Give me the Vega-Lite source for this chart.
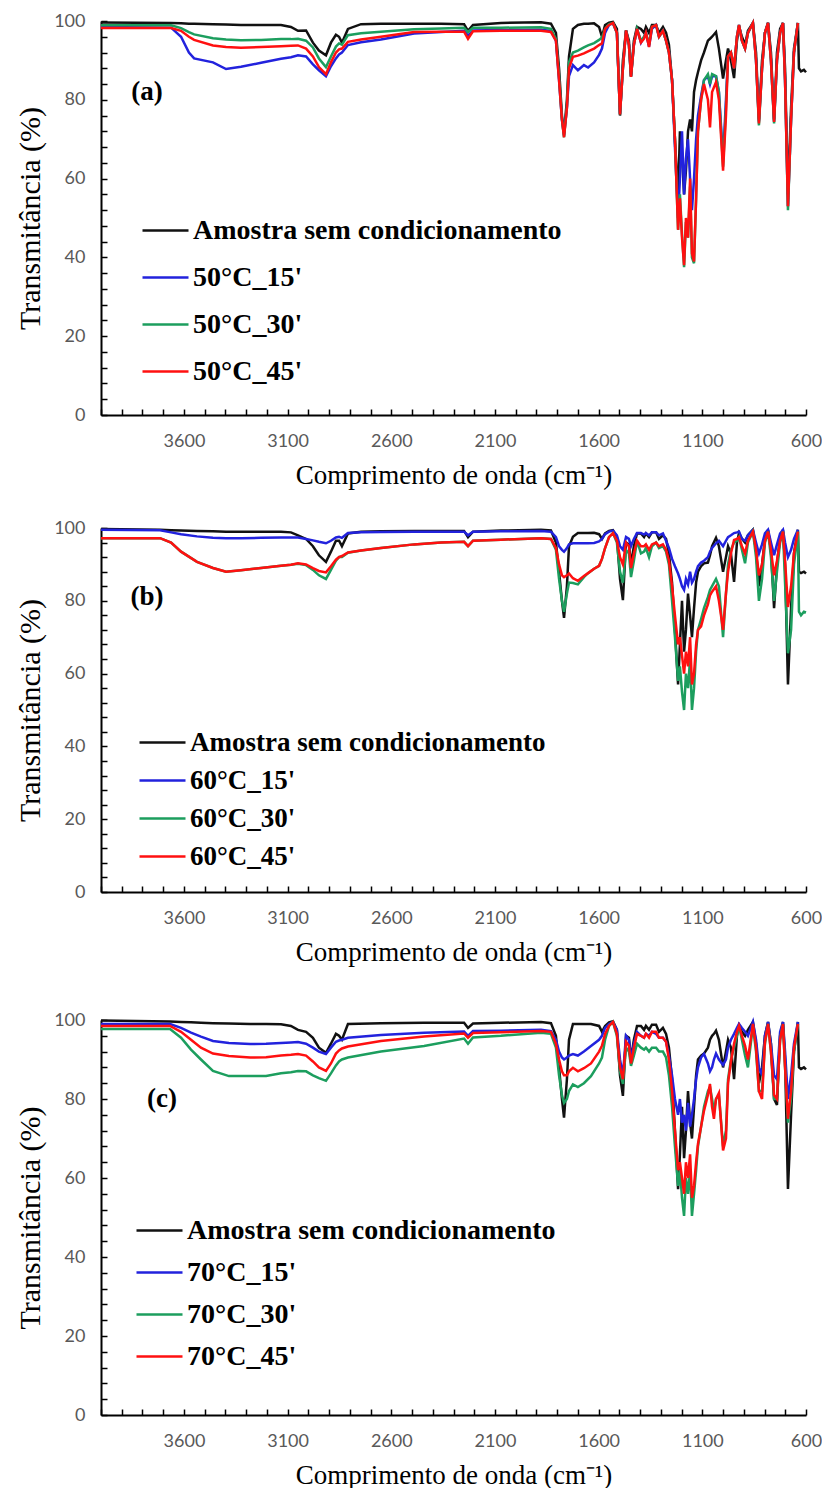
{
"$schema": "https://vega.github.io/schema/vega-lite/v6.json",
"background": "white",
"padding": {"left": 15, "top": 12, "right": 0, "bottom": 0},
"autosize": {"type": "pad"},
"config": {
  "view": {"stroke": null},
  "axis": {"grid": false, "domainColor": "#000", "domainWidth": 2, "tickColor": "#000", "tickWidth": 1.5, "tickSize": -6, "labelFont": "Lato", "labelFontSize": 18, "labelColor": "#595959", "titleFont": "Liberation Serif", "titleFontWeight": "normal", "titleColor": "#000", "labelOverlap": false, "labelFlush": false},
  "axisX": {"labelPadding": 23, "titleFontSize": 27, "titlePadding": 12},
  "axisY": {"labelPadding": 22, "titleFontSize": 30, "titlePadding": 8},
  "legend": {"title": null, "orient": "none", "symbolType": "stroke", "symbolSize": 2116, "symbolStrokeWidth": 2.5, "labelFont": "Liberation Serif", "labelFontWeight": "bold", "labelFontSize": 28, "labelColor": "#000", "labelOffset": 3, "labelLimit": 600, "padding": 0}
},
"datasets": {
  "NA": [{"key":"k","s":"Amostra sem condicionamento"},{"key":"b","s":"50°C_15'"},{"key":"g","s":"50°C_30'"},{"key":"r","s":"50°C_45'"}],
  "NB": [{"key":"k","s":"Amostra sem condicionamento"},{"key":"b","s":"60°C_15'"},{"key":"g","s":"60°C_30'"},{"key":"r","s":"60°C_45'"}],
  "NC": [{"key":"k","s":"Amostra sem condicionamento"},{"key":"b","s":"70°C_15'"},{"key":"g","s":"70°C_30'"},{"key":"r","s":"70°C_45'"}],
  "A": [
{"x":4000,"k":99.6,"b":98.5,"g":98.9,"r":98.2},
{"x":3662,"k":99.5,"b":98.3,"g":98.9,"r":98.2},
{"x":3614,"k":99.4,"b":96,"g":98.2,"r":97.5},
{"x":3576,"k":99.3,"b":92,"g":97.2,"r":96},
{"x":3551,"k":99.3,"b":90.5,"g":96.6,"r":95.2},
{"x":3460,"k":99.2,"b":89.5,"g":95.6,"r":93.8},
{"x":3397,"k":99.1,"b":87.8,"g":95.3,"r":93.4},
{"x":3325,"k":99,"b":88.4,"g":95.1,"r":93.2},
{"x":3228,"k":99,"b":89.4,"g":95.2,"r":93.4},
{"x":3132,"k":99,"b":90.4,"g":95.4,"r":93.6},
{"x":3084,"k":98.5,"b":90.8,"g":95.4,"r":93.7},
{"x":3050,"k":97.5,"b":91.3,"g":95.5,"r":93.8},
{"x":3011,"k":97.6,"b":91,"g":95,"r":93},
{"x":2978,"k":94.5,"b":89,"g":93.3,"r":91},
{"x":2949,"k":92.5,"b":87.5,"g":90.5,"r":88.3},
{"x":2915,"k":91.3,"b":86,"g":88.3,"r":86.5},
{"x":2891,"k":94.5,"b":88.5,"g":91,"r":89.5},
{"x":2867,"k":96.5,"b":90.5,"g":93.5,"r":92},
{"x":2852,"k":96,"b":91.5,"g":94.3,"r":92.8},
{"x":2838,"k":94.5,"b":92,"g":94,"r":93},
{"x":2809,"k":98,"b":93.9,"g":96.4,"r":94.7},
{"x":2746,"k":99.2,"b":94.6,"g":96.9,"r":95.3},
{"x":2650,"k":99.3,"b":95.3,"g":97.3,"r":96},
{"x":2490,"k":99.3,"b":96.8,"g":97.9,"r":97.2},
{"x":2360,"k":99.3,"b":97.2,"g":98.1,"r":97.3},
{"x":2249,"k":99.2,"b":97.5,"g":98.3,"r":97.3},
{"x":2230,"k":97.5,"b":96.3,"g":97.2,"r":95.5},
{"x":2206,"k":99,"b":97.6,"g":98.3,"r":97.4},
{"x":2071,"k":99.5,"b":97.7,"g":98.3,"r":97.5},
{"x":1878,"k":99.7,"b":97.8,"g":98.4,"r":97.5},
{"x":1830,"k":99.3,"b":97.5,"g":98,"r":97.2},
{"x":1806,"k":97,"b":95,"g":95.5,"r":95},
{"x":1791,"k":88,"b":85,"g":86,"r":85},
{"x":1777,"k":76,"b":75,"g":75,"r":75},
{"x":1767,"k":71.5,"b":71,"g":70.5,"r":70.5},
{"x":1753,"k":80,"b":78,"g":78.5,"r":78},
{"x":1743,"k":91,"b":86,"g":89.5,"r":88},
{"x":1724,"k":98,"b":88.8,"g":92,"r":90.9},
{"x":1700,"k":99,"b":87.5,"g":92.5,"r":91.2},
{"x":1671,"k":99.3,"b":88.8,"g":93.3,"r":91.8},
{"x":1651,"k":99.3,"b":88.2,"g":93.8,"r":92.3},
{"x":1622,"k":99.4,"b":89.5,"g":94.4,"r":93},
{"x":1598,"k":98.5,"b":91.4,"g":95.2,"r":93.9},
{"x":1584,"k":96,"b":93,"g":95.8,"r":94.3},
{"x":1569,"k":99,"b":97,"g":98,"r":98},
{"x":1550,"k":99.6,"b":99,"g":99.2,"r":99},
{"x":1531,"k":99.8,"b":99.4,"g":99.5,"r":99.5},
{"x":1512,"k":98,"b":97,"g":97,"r":97},
{"x":1497,"k":76,"b":76.5,"g":76.3,"r":76.3},
{"x":1483,"k":90,"b":88,"g":88,"r":88},
{"x":1468,"k":97.6,"b":97.5,"g":97.6,"r":97.6},
{"x":1454,"k":95,"b":94,"g":94,"r":94},
{"x":1444,"k":86,"b":86,"g":85.8,"r":85.8},
{"x":1430,"k":95,"b":94,"g":94,"r":94},
{"x":1415,"k":98.5,"b":98,"g":98,"r":98},
{"x":1396,"k":98,"b":94.5,"g":95,"r":94.5},
{"x":1381,"k":97,"b":96,"g":96,"r":95.5},
{"x":1372,"k":98.5,"b":97,"g":97,"r":97},
{"x":1357,"k":97,"b":93.5,"g":94,"r":93.4},
{"x":1343,"k":99,"b":98,"g":98.5,"r":98.5},
{"x":1323,"k":99,"b":99,"g":99,"r":99},
{"x":1309,"k":97,"b":96,"g":96,"r":96},
{"x":1290,"k":98.5,"b":97.5,"g":97.5,"r":97.5},
{"x":1275,"k":97,"b":95,"g":95,"r":95},
{"x":1261,"k":94,"b":92,"g":92,"r":92},
{"x":1246,"k":85,"b":85,"g":85,"r":85},
{"x":1232,"k":70,"b":68,"g":70,"r":70},
{"x":1217,"k":55,"b":50,"g":47,"r":47},
{"x":1208,"k":72,"b":60,"g":56,"r":55},
{"x":1198,"k":66,"b":72,"g":46,"r":45},
{"x":1188,"k":56,"b":56,"g":37.5,"r":38},
{"x":1179,"k":62,"b":65,"g":49,"r":50},
{"x":1169,"k":72,"b":70,"g":45,"r":45},
{"x":1159,"k":75,"b":60,"g":58,"r":60},
{"x":1150,"k":72,"b":52,"g":40,"r":41},
{"x":1140,"k":82,"b":60,"g":38.5,"r":39},
{"x":1130,"k":85,"b":70,"g":55,"r":55},
{"x":1121,"k":87,"b":76,"g":72,"r":72},
{"x":1106,"k":90,"b":81,"g":80,"r":80},
{"x":1092,"k":92,"b":85,"g":85,"r":84},
{"x":1073,"k":95,"b":86,"g":86.5,"r":80},
{"x":1063,"k":95.5,"b":84,"g":84,"r":73},
{"x":1053,"k":96,"b":86,"g":86.5,"r":82},
{"x":1034,"k":97.2,"b":86,"g":86,"r":84.5},
{"x":1020,"k":93,"b":82,"g":82,"r":80},
{"x":1000,"k":85.4,"b":65,"g":63,"r":62},
{"x":986,"k":90,"b":80,"g":78,"r":76},
{"x":976,"k":93,"b":91,"g":91,"r":91},
{"x":962,"k":90,"b":92,"g":92,"r":92},
{"x":947,"k":85.5,"b":88,"g":88,"r":88},
{"x":933,"k":95,"b":96,"g":96,"r":96},
{"x":923,"k":98.6,"b":99,"g":99,"r":99},
{"x":909,"k":96,"b":95,"g":95,"r":95},
{"x":894,"k":94,"b":93,"g":93,"r":93},
{"x":880,"k":97.5,"b":97,"g":97,"r":97},
{"x":856,"k":99.5,"b":99.5,"g":99.5,"r":99.5},
{"x":841,"k":92,"b":90,"g":90,"r":90},
{"x":827,"k":75,"b":74.5,"g":73.5,"r":74},
{"x":812,"k":90,"b":88,"g":88,"r":88},
{"x":798,"k":97,"b":97,"g":97,"r":97},
{"x":783,"k":99.5,"b":99.5,"g":99.5,"r":99.5},
{"x":769,"k":92,"b":90,"g":90,"r":90},
{"x":754,"k":75,"b":74.5,"g":74,"r":74.4},
{"x":740,"k":92,"b":90,"g":90,"r":90},
{"x":725,"k":98,"b":97,"g":97,"r":97},
{"x":711,"k":99.5,"b":99.5,"g":99.5,"r":99.5},
{"x":701,"k":88,"b":85,"g":85,"r":85},
{"x":687,"k":56,"b":53,"g":52,"r":53},
{"x":672,"k":78,"b":75,"g":75,"r":75},
{"x":658,"k":93,"b":92,"g":92,"r":92},
{"x":639,"k":99.5,"b":99.5,"g":99.5,"r":99.5},
{"x":634,"k":88},
{"x":624,"k":87.2},
{"x":610,"k":87.6},
{"x":600,"k":87}
  ],
  "B": [
{"x":4000,"k":99.7,"b":99.5,"g":97.2,"r":97.2},
{"x":3715,"k":99.5,"b":99.4,"g":97.2,"r":97.2},
{"x":3662,"k":99.4,"b":98.8,"g":96,"r":96},
{"x":3614,"k":99.3,"b":98.3,"g":93.5,"r":93.5},
{"x":3537,"k":99.2,"b":97.7,"g":90.7,"r":90.7},
{"x":3460,"k":99.1,"b":97.3,"g":89,"r":89},
{"x":3397,"k":99,"b":97.2,"g":88,"r":88},
{"x":3325,"k":99,"b":97.2,"g":88.4,"r":88.4},
{"x":3228,"k":99,"b":97.3,"g":89,"r":89},
{"x":3132,"k":99,"b":97.4,"g":89.6,"r":89.6},
{"x":3084,"k":98.8,"b":97.4,"g":89.9,"r":89.9},
{"x":3050,"k":98,"b":97.4,"g":90.2,"r":90.3},
{"x":3011,"k":97,"b":97,"g":89.8,"r":90},
{"x":2978,"k":95,"b":96.6,"g":88.5,"r":89},
{"x":2949,"k":92.5,"b":96.2,"g":87,"r":88.2},
{"x":2915,"k":90.7,"b":95.8,"g":86,"r":87.8},
{"x":2891,"k":93.5,"b":96.5,"g":88.5,"r":89.5},
{"x":2867,"k":96.5,"b":97.4,"g":91,"r":91.3},
{"x":2852,"k":96.5,"b":97.6,"g":92,"r":92},
{"x":2838,"k":95,"b":97.3,"g":92,"r":92.3},
{"x":2809,"k":98.5,"b":98.6,"g":93.2,"r":93.3},
{"x":2746,"k":99,"b":98.8,"g":93.8,"r":93.8},
{"x":2650,"k":99.1,"b":98.9,"g":94.5,"r":94.5},
{"x":2490,"k":99.2,"b":99,"g":95.5,"r":95.5},
{"x":2360,"k":99.2,"b":99,"g":96,"r":96},
{"x":2249,"k":99.2,"b":99,"g":96.2,"r":96.2},
{"x":2230,"k":97.5,"b":98,"g":95,"r":95},
{"x":2206,"k":99,"b":99,"g":96.5,"r":96.5},
{"x":2071,"k":99.3,"b":99.1,"g":96.8,"r":96.8},
{"x":1878,"k":99.5,"b":99.2,"g":97.2,"r":97.2},
{"x":1830,"k":99.3,"b":99,"g":97,"r":97},
{"x":1806,"k":96,"b":97.5,"g":94,"r":94.5},
{"x":1791,"k":88,"b":95,"g":86,"r":90},
{"x":1777,"k":80,"b":94,"g":80,"r":87},
{"x":1767,"k":75.3,"b":93.5,"g":77,"r":86.5},
{"x":1753,"k":84,"b":94.5,"g":82,"r":87},
{"x":1743,"k":95,"b":95.5,"g":85,"r":87.5},
{"x":1724,"k":97.6,"b":95.8,"g":84.9,"r":86.2},
{"x":1700,"k":98.6,"b":95.8,"g":84.5,"r":85.5},
{"x":1671,"k":98.6,"b":95.8,"g":86.5,"r":86.8},
{"x":1651,"k":98.6,"b":95.8,"g":87.6,"r":87.6},
{"x":1622,"k":98.7,"b":95.9,"g":88.8,"r":88.8},
{"x":1598,"k":98.3,"b":96.3,"g":89.6,"r":89.6},
{"x":1584,"k":97,"b":97,"g":91.5,"r":91.5},
{"x":1569,"k":98.5,"b":98.3,"g":94.5,"r":94.5},
{"x":1550,"k":99.2,"b":99,"g":97.5,"r":97.5},
{"x":1531,"k":99.4,"b":99.3,"g":98.6,"r":98.6},
{"x":1512,"k":97.5,"b":98,"g":96,"r":96.5},
{"x":1497,"k":86,"b":95,"g":88,"r":92},
{"x":1483,"k":80.2,"b":94,"g":85,"r":90},
{"x":1468,"k":96,"b":97.5,"g":94,"r":96},
{"x":1454,"k":95.5,"b":97,"g":93,"r":95},
{"x":1444,"k":90,"b":95,"g":86.5,"r":89},
{"x":1430,"k":95,"b":97,"g":91,"r":93},
{"x":1415,"k":98.5,"b":98.6,"g":96.5,"r":96.5},
{"x":1396,"k":98.5,"b":98.6,"g":93,"r":95},
{"x":1381,"k":97.5,"b":98.2,"g":93.5,"r":95},
{"x":1372,"k":98.5,"b":98.6,"g":94.5,"r":95.5},
{"x":1357,"k":97.5,"b":98,"g":92,"r":94},
{"x":1343,"k":98.8,"b":98.8,"g":95,"r":95.5},
{"x":1323,"k":98.8,"b":98.8,"g":96,"r":96},
{"x":1309,"k":97,"b":98,"g":94.5,"r":95},
{"x":1290,"k":98,"b":98.5,"g":95,"r":95.5},
{"x":1275,"k":97,"b":96.5,"g":93.5,"r":94},
{"x":1261,"k":93,"b":94.5,"g":90,"r":91},
{"x":1246,"k":85,"b":91.5,"g":80,"r":84},
{"x":1232,"k":72,"b":89.5,"g":70,"r":76},
{"x":1217,"k":57,"b":87.5,"g":58,"r":68},
{"x":1208,"k":68,"b":86,"g":62,"r":70},
{"x":1198,"k":80,"b":84,"g":55,"r":65},
{"x":1188,"k":66,"b":83,"g":50,"r":60},
{"x":1179,"k":72,"b":86,"g":60,"r":66},
{"x":1169,"k":82,"b":84.5,"g":56,"r":62},
{"x":1159,"k":76,"b":88,"g":64,"r":70},
{"x":1150,"k":70,"b":85,"g":50,"r":57},
{"x":1140,"k":78,"b":86,"g":56,"r":60},
{"x":1130,"k":85,"b":88,"g":66,"r":68},
{"x":1121,"k":88,"b":89.5,"g":72,"r":72},
{"x":1106,"k":89.5,"b":90.5,"g":75,"r":73},
{"x":1092,"k":90.3,"b":91,"g":78,"r":76},
{"x":1073,"k":90.5,"b":92,"g":81,"r":79},
{"x":1063,"k":92.5,"b":93.5,"g":83,"r":81.5},
{"x":1053,"k":95,"b":94.5,"g":84,"r":82.5},
{"x":1034,"k":97.3,"b":95.8,"g":86,"r":84},
{"x":1020,"k":95,"b":96.5,"g":84,"r":80},
{"x":1000,"k":88,"b":95,"g":70,"r":72},
{"x":986,"k":92,"b":96.5,"g":82,"r":82},
{"x":976,"k":95,"b":97.5,"g":90,"r":88},
{"x":962,"k":93,"b":98,"g":94,"r":93},
{"x":947,"k":85.2,"b":98.6,"g":96,"r":96.7},
{"x":933,"k":96,"b":98.8,"g":96.5,"r":97},
{"x":923,"k":98.6,"b":99,"g":97.5,"r":97.5},
{"x":909,"k":97,"b":97,"g":94,"r":95},
{"x":894,"k":96,"b":96.5,"g":90.3,"r":93},
{"x":880,"k":98,"b":98,"g":96,"r":96.5},
{"x":856,"k":99.5,"b":99.5,"g":99,"r":99},
{"x":841,"k":94,"b":96,"g":92,"r":94},
{"x":827,"k":84,"b":93,"g":80,"r":87},
{"x":812,"k":90,"b":95.5,"g":86,"r":90},
{"x":798,"k":97,"b":98.5,"g":96,"r":96.5},
{"x":783,"k":99.5,"b":99.5,"g":99,"r":99},
{"x":769,"k":94,"b":96,"g":92,"r":94},
{"x":754,"k":78,"b":92.5,"g":80,"r":87},
{"x":740,"k":90,"b":95.5,"g":88,"r":91},
{"x":725,"k":97.5,"b":98.5,"g":96,"r":96.5},
{"x":711,"k":99.5,"b":99.5,"g":99,"r":99},
{"x":701,"k":90,"b":96,"g":85,"r":91},
{"x":687,"k":57,"b":92,"g":65.6,"r":78.3},
{"x":672,"k":78,"b":94,"g":72,"r":84},
{"x":658,"k":93,"b":97,"g":90,"r":93},
{"x":639,"k":99.5,"b":99.5,"g":99,"r":99},
{"x":634,"k":88,"g":77},
{"x":624,"k":87.6,"g":76},
{"x":610,"k":88,"g":77},
{"x":600,"k":87.5,"g":76.8}
  ],
  "C": [
{"x":4000,"k":99.9,"b":99,"g":97.7,"r":98.5},
{"x":3667,"k":99.6,"b":99,"g":97.7,"r":98.5},
{"x":3614,"k":99.5,"b":98,"g":95.5,"r":97},
{"x":3566,"k":99.4,"b":96.8,"g":92.5,"r":95},
{"x":3518,"k":99.3,"b":95.8,"g":90,"r":93},
{"x":3460,"k":99.2,"b":94.7,"g":87.1,"r":91.5},
{"x":3383,"k":99.1,"b":94.2,"g":85.8,"r":90.9},
{"x":3281,"k":99,"b":93.9,"g":85.8,"r":90.5},
{"x":3204,"k":99,"b":94,"g":85.8,"r":90.6},
{"x":3132,"k":98.9,"b":94.2,"g":86.5,"r":91},
{"x":3084,"k":98.5,"b":94.3,"g":86.8,"r":91.2},
{"x":3050,"k":97.5,"b":94.4,"g":87.1,"r":91.4},
{"x":3011,"k":97,"b":94,"g":87,"r":91},
{"x":2978,"k":95.5,"b":93,"g":86,"r":89.5},
{"x":2949,"k":93,"b":92,"g":85.3,"r":88},
{"x":2915,"k":91.7,"b":91.4,"g":84.6,"r":87.1},
{"x":2891,"k":94,"b":93,"g":86.5,"r":89},
{"x":2867,"k":96.5,"b":94.5,"g":88.5,"r":91.5},
{"x":2852,"k":96,"b":94.8,"g":89.5,"r":92.3},
{"x":2838,"k":95,"b":95,"g":90,"r":92.8},
{"x":2809,"k":99,"b":95.5,"g":90.5,"r":93.3},
{"x":2650,"k":99.2,"b":96.2,"g":92,"r":94.7},
{"x":2442,"k":99.3,"b":96.8,"g":93.4,"r":95.8},
{"x":2249,"k":99.3,"b":97.1,"g":95.3,"r":96.6},
{"x":2230,"k":98,"b":96,"g":94,"r":95.5},
{"x":2206,"k":99.1,"b":97.2,"g":95.6,"r":96.7},
{"x":2071,"k":99.3,"b":97.3,"g":96,"r":96.9},
{"x":1878,"k":99.5,"b":97.5,"g":96.8,"r":97.2},
{"x":1830,"k":99.2,"b":97.2,"g":96.5,"r":97},
{"x":1806,"k":96,"b":95,"g":93,"r":94},
{"x":1791,"k":88,"b":92,"g":86,"r":90},
{"x":1777,"k":80,"b":90.5,"g":81,"r":87},
{"x":1767,"k":75.3,"b":90,"g":79,"r":86},
{"x":1753,"k":85,"b":90.5,"g":80,"r":86},
{"x":1743,"k":95,"b":91,"g":82,"r":87},
{"x":1724,"k":99,"b":91.4,"g":83.7,"r":87.9},
{"x":1700,"k":99,"b":91,"g":83,"r":87},
{"x":1671,"k":99,"b":92,"g":84,"r":87.8},
{"x":1637,"k":99,"b":93.4,"g":85.8,"r":89},
{"x":1598,"k":98.5,"b":95,"g":89,"r":92},
{"x":1584,"k":97,"b":96,"g":90.5,"r":93.5},
{"x":1569,"k":98.5,"b":98,"g":95,"r":96.5},
{"x":1550,"k":99.4,"b":99,"g":98.5,"r":98.5},
{"x":1531,"k":99.7,"b":99.5,"g":99.5,"r":99.5},
{"x":1512,"k":97.5,"b":97.5,"g":96,"r":96.5},
{"x":1497,"k":86,"b":90,"g":87,"r":88},
{"x":1483,"k":80.8,"b":86,"g":83.8,"r":85},
{"x":1468,"k":96,"b":96,"g":93,"r":94.5},
{"x":1454,"k":95.5,"b":95,"g":92,"r":93.5},
{"x":1444,"k":90,"b":90,"g":88.4,"r":89},
{"x":1430,"k":95,"b":94,"g":91,"r":93},
{"x":1415,"k":98.5,"b":97,"g":94,"r":96.5},
{"x":1396,"k":98.5,"b":96,"g":93,"r":96},
{"x":1381,"k":97.5,"b":95.5,"g":92.5,"r":95.5},
{"x":1372,"k":98.5,"b":96.5,"g":93,"r":96.5},
{"x":1357,"k":97.5,"b":96,"g":92,"r":95.5},
{"x":1343,"k":98.8,"b":97,"g":93,"r":97},
{"x":1323,"k":98.8,"b":96.5,"g":93,"r":97},
{"x":1309,"k":97,"b":95.5,"g":92,"r":95.5},
{"x":1290,"k":98,"b":95.5,"g":92,"r":95.5},
{"x":1275,"k":96.5,"b":94.5,"g":90.5,"r":94.5},
{"x":1261,"k":93,"b":91,"g":86,"r":90},
{"x":1246,"k":85,"b":86,"g":78,"r":82},
{"x":1232,"k":72,"b":80,"g":68,"r":72},
{"x":1217,"k":57.2,"b":76,"g":58,"r":62},
{"x":1208,"k":66,"b":80,"g":62,"r":64},
{"x":1198,"k":78,"b":74,"g":55,"r":60},
{"x":1188,"k":65,"b":76,"g":50.4,"r":56},
{"x":1179,"k":72,"b":72,"g":60,"r":64},
{"x":1169,"k":82,"b":79,"g":56,"r":60},
{"x":1159,"k":74,"b":73,"g":62,"r":66},
{"x":1150,"k":70,"b":76,"g":50.4,"r":55},
{"x":1140,"k":78,"b":80,"g":56,"r":58},
{"x":1130,"k":86,"b":85,"g":62,"r":64},
{"x":1121,"k":90,"b":88,"g":68,"r":68.6},
{"x":1106,"k":91,"b":90.5,"g":73,"r":73},
{"x":1092,"k":91.5,"b":91.4,"g":78,"r":77},
{"x":1073,"k":93,"b":89,"g":82,"r":81},
{"x":1063,"k":95,"b":87,"g":83,"r":83.8},
{"x":1053,"k":96,"b":88,"g":80,"r":78},
{"x":1044,"k":96.5,"b":90,"g":77,"r":75},
{"x":1034,"k":97.3,"b":91.5,"g":80,"r":80},
{"x":1020,"k":95,"b":90,"g":81,"r":81.5},
{"x":1000,"k":88,"b":88.6,"g":68,"r":67},
{"x":986,"k":92,"b":90,"g":72,"r":70},
{"x":976,"k":95,"b":93,"g":85,"r":84},
{"x":962,"k":93,"b":95,"g":90,"r":89.5},
{"x":947,"k":85,"b":96.5,"g":93,"r":94},
{"x":933,"k":96,"b":98,"g":96,"r":97},
{"x":923,"k":98.6,"b":99,"g":98.5,"r":98.5},
{"x":909,"k":97,"b":98,"g":95,"r":96},
{"x":894,"k":96,"b":97,"g":91,"r":93.5},
{"x":880,"k":97.5,"b":96,"g":88,"r":90},
{"x":856,"k":99.5,"b":99.5,"g":98.5,"r":99},
{"x":841,"k":94,"b":95,"g":92,"r":93},
{"x":827,"k":84,"b":88,"g":82,"r":82},
{"x":812,"k":88,"b":86,"g":82,"r":80},
{"x":798,"k":96,"b":96,"g":94,"r":94.5},
{"x":783,"k":99.5,"b":99.5,"g":99,"r":99},
{"x":769,"k":94,"b":94,"g":92,"r":92},
{"x":754,"k":80,"b":86,"g":80,"r":81},
{"x":740,"k":78.5,"b":85,"g":80,"r":80},
{"x":725,"k":96,"b":97,"g":95,"r":95},
{"x":711,"k":99.5,"b":99.5,"g":99,"r":99},
{"x":701,"k":90,"b":92,"g":88,"r":88},
{"x":687,"k":57.2,"b":80,"g":74,"r":75},
{"x":672,"k":76,"b":86,"g":80,"r":82},
{"x":658,"k":92,"b":94,"g":92,"r":93},
{"x":639,"k":99.5,"b":99.5,"g":99,"r":99},
{"x":634,"k":88},
{"x":624,"k":87.6},
{"x":610,"k":88},
{"x":600,"k":87.5}
  ]
},
"vconcat": [
  {
    "width": 705, "height": 394,
    "encoding": {
      "x": {"field": "x", "type": "quantitative", "scale": {"domain": [600, 4000], "reverse": true, "nice": false, "zero": false}, "axis": {"title": "Comprimento de onda (cm⁻¹)", "format": "d", "values": [4000,3900,3800,3700,3600,3500,3400,3300,3200,3100,3000,2900,2800,2700,2600,2500,2400,2300,2200,2100,2000,1900,1800,1700,1600,1500,1400,1300,1200,1100,1000,900,800,700,600], "labelExpr": "(datum.value - 600) % 500 === 0 ? datum.label : ''"}},
      "y": {"field": "y", "type": "quantitative", "scale": {"domain": [0, 100], "nice": false}, "axis": {"title": "Transmitância (%)", "values": [0,4,8,12,16,20,24,28,32,36,40,44,48,52,56,60,64,68,72,76,80,84,88,92,96,100], "labelExpr": "datum.value % 20 === 0 ? datum.label : ''"}}
    },
    "layer": [
      {
        "data": {"name": "A"},
        "transform": [{"fold": ["k", "b", "g", "r"], "as": ["key", "y"]}, {"lookup": "key", "from": {"data": {"name": "NA"}, "key": "key", "fields": ["s"]}}],
        "mark": {"type": "line", "strokeWidth": 2.5},
        "encoding": {"color": {"field": "s", "type": "nominal", "scale": {"domain": ["Amostra sem condicionamento", "50°C_15'", "50°C_30'", "50°C_45'"], "range": ["#111111", "#2222dd", "#1c9e5e", "#ff1010"]}, "legend": {"legendX": 40, "legendY": 185, "rowPadding": 8}}}
      },
      {
        "data": {"values": [{"t": "(a)", "x": 3778, "y": 82}]},
        "mark": {"type": "text", "font": "Liberation Serif", "fontWeight": "bold", "fontSize": 27, "align": "center", "baseline": "middle", "color": "#000"},
        "encoding": {"text": {"field": "t"}}
      }
    ]
  },
  {
    "vconcat": [
      {
        "width": 705, "height": 364,
        "encoding": {
          "x": {"field": "x", "type": "quantitative", "scale": {"domain": [600, 4000], "reverse": true, "nice": false, "zero": false}, "axis": {"title": "Comprimento de onda (cm⁻¹)", "format": "d", "values": [4000,3900,3800,3700,3600,3500,3400,3300,3200,3100,3000,2900,2800,2700,2600,2500,2400,2300,2200,2100,2000,1900,1800,1700,1600,1500,1400,1300,1200,1100,1000,900,800,700,600], "labelExpr": "(datum.value - 600) % 500 === 0 ? datum.label : ''"}},
          "y": {"field": "y", "type": "quantitative", "scale": {"domain": [0, 100], "nice": false}, "axis": {"title": "Transmitância (%)", "values": [0,4,8,12,16,20,24,28,32,36,40,44,48,52,56,60,64,68,72,76,80,84,88,92,96,100], "labelExpr": "datum.value % 20 === 0 ? datum.label : ''"}}
        },
        "layer": [
          {
            "data": {"name": "B"},
            "transform": [{"fold": ["k", "b", "g", "r"], "as": ["key", "y"]}, {"lookup": "key", "from": {"data": {"name": "NB"}, "key": "key", "fields": ["s"]}}],
            "mark": {"type": "line", "strokeWidth": 2.5},
            "encoding": {"color": {"field": "s", "type": "nominal", "scale": {"domain": ["Amostra sem condicionamento", "60°C_15'", "60°C_30'", "60°C_45'"], "range": ["#111111", "#2222dd", "#1c9e5e", "#ff1010"]}, "legend": {"legendX": 37, "legendY": 190, "rowPadding": 0, "labelFontSize": 27}}}
          },
          {
            "data": {"values": [{"t": "(b)", "x": 3778, "y": 81}]},
            "mark": {"type": "text", "font": "Liberation Serif", "fontWeight": "bold", "fontSize": 27, "align": "center", "baseline": "middle", "color": "#000"},
            "encoding": {"text": {"field": "t"}}
          }
        ]
      },
      {
        "width": 705, "height": 395,
        "encoding": {
          "x": {"field": "x", "type": "quantitative", "scale": {"domain": [600, 4000], "reverse": true, "nice": false, "zero": false}, "axis": {"title": "Comprimento de onda (cm⁻¹)", "format": "d", "values": [4000,3900,3800,3700,3600,3500,3400,3300,3200,3100,3000,2900,2800,2700,2600,2500,2400,2300,2200,2100,2000,1900,1800,1700,1600,1500,1400,1300,1200,1100,1000,900,800,700,600], "labelExpr": "(datum.value - 600) % 500 === 0 ? datum.label : ''"}},
          "y": {"field": "y", "type": "quantitative", "scale": {"domain": [0, 100], "nice": false}, "axis": {"title": "Transmitância (%)", "values": [0,4,8,12,16,20,24,28,32,36,40,44,48,52,56,60,64,68,72,76,80,84,88,92,96,100], "labelExpr": "datum.value % 20 === 0 ? datum.label : ''"}}
        },
        "layer": [
          {
            "data": {"name": "C"},
            "transform": [{"fold": ["k", "b", "g", "r"], "as": ["key", "y"]}, {"lookup": "key", "from": {"data": {"name": "NC"}, "key": "key", "fields": ["s"]}}],
            "mark": {"type": "line", "strokeWidth": 2.5},
            "encoding": {"color": {"field": "s", "type": "nominal", "scale": {"domain": ["Amostra sem condicionamento", "70°C_15'", "70°C_30'", "70°C_45'"], "range": ["#111111", "#2222dd", "#1c9e5e", "#ff1010"]}, "legend": {"legendX": 34, "legendY": 186, "rowPadding": 3}}}
          },
          {
            "data": {"values": [{"t": "(c)", "x": 3706, "y": 80}]},
            "mark": {"type": "text", "font": "Liberation Serif", "fontWeight": "bold", "fontSize": 27, "align": "center", "baseline": "middle", "color": "#000"},
            "encoding": {"text": {"field": "t"}}
          }
        ]
      }
    ],
    "spacing": 46,
    "resolve": {"scale": {"color": "independent"}, "legend": {"color": "independent"}}
  }
],
"spacing": 31,
"resolve": {"scale": {"color": "independent"}, "legend": {"color": "independent"}}
}
